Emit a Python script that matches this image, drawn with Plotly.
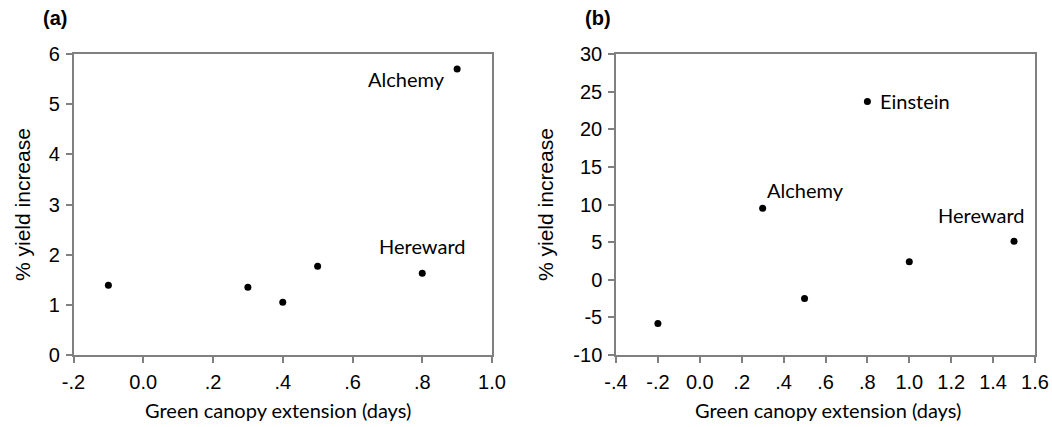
import plotly.graph_objects as go

# Panel (a)
a_x = [-0.1, 0.3, 0.4, 0.5, 0.8, 0.9]
a_y = [1.39, 1.35, 1.05, 1.77, 1.63, 5.70]
a_xticks = [-0.2, 0.0, 0.2, 0.4, 0.6, 0.8, 1.0]
a_xticktext = ["-.2", "0.0", ".2", ".4", ".6", ".8", "1.0"]
a_yticks = [0, 1, 2, 3, 4, 5, 6]

# Panel (b)
b_x = [-0.2, 0.3, 0.5, 0.8, 1.0, 1.5]
b_y = [-5.8, 9.5, -2.5, 23.7, 2.4, 5.1]
b_xticks = [-0.4, -0.2, 0.0, 0.2, 0.4, 0.6, 0.8, 1.0, 1.2, 1.4, 1.6]
b_xticktext = ["-.4", "-.2", "0.0", ".2", ".4", ".6", ".8", "1.0", "1.2", "1.4", "1.6"]
b_yticks = [-10, -5, 0, 5, 10, 15, 20, 25, 30]
b_yticktext = ["-10", "-5", "0", "5", "10", "15", "20", "25", "30"]

W, H = 1052, 427
def px(x): return x / W
def py(y): return (H - y) / H

fig = go.Figure()
marker = dict(color="black", size=7)
fig.add_trace(go.Scatter(x=a_x, y=a_y, mode="markers", marker=marker, xaxis="x", yaxis="y", showlegend=False))
fig.add_trace(go.Scatter(x=b_x, y=b_y, mode="markers", marker=marker, xaxis="x2", yaxis="y2", showlegend=False))

tickfont = dict(family="Arial, Liberation Sans, sans-serif", size=20, color="black")
axis_common = dict(showline=True, linecolor="#808080", linewidth=1.5, mirror=True,
                   ticks="outside", ticklen=6, tickcolor="#808080", tickwidth=1.5,
                   showgrid=False, zeroline=False, tickfont=tickfont, automargin=False,
                   ticklabelstandoff=2)

fig.update_layout(
    width=W, height=H, margin=dict(l=0, r=0, t=0, b=0, autoexpand=False),
    paper_bgcolor="white", plot_bgcolor="white",
    xaxis=dict(domain=[px(73.5), px(492)], range=[-0.2, 1.0], tickvals=a_xticks, ticktext=a_xticktext,
               anchor="y", **axis_common),
    yaxis=dict(domain=[py(355), py(54)], range=[0, 6], tickvals=a_yticks, anchor="x", **axis_common),
    xaxis2=dict(domain=[px(616), px(1035)], range=[-0.4, 1.6], tickvals=b_xticks, ticktext=b_xticktext,
                anchor="y2", **axis_common),
    yaxis2=dict(domain=[py(355), py(54)], range=[-10, 30], tickvals=b_yticks, ticktext=b_yticktext,
                anchor="x2", **axis_common),
)

lab_font = dict(family="Lato", size=20, color="black")
xtitle_font = dict(family="Lato", size=20, color="black")
ytitle_font = dict(family="Arial, Liberation Sans, sans-serif", size=21, color="black")
letter_font = dict(family="Arial, Liberation Sans, sans-serif", size=20, color="black")
ann = []
# panel letters
ann.append(dict(text="<b>(a)</b>", x=px(55), y=py(18), xref="paper", yref="paper", showarrow=False,
                xanchor="center", yanchor="middle", font=letter_font))
ann.append(dict(text="<b>(b)</b>", x=px(598), y=py(18), xref="paper", yref="paper", showarrow=False,
                xanchor="center", yanchor="middle", font=letter_font))
# axis titles
for cx in (278, 828):
    ann.append(dict(text="Green canopy extension (days)", x=px(cx), y=py(410), xref="paper", yref="paper",
                    showarrow=False, xanchor="center", yanchor="middle", font=xtitle_font))
for cx in (22, 545):
    ann.append(dict(text="% yield increase", x=px(cx), y=py(205), xref="paper", yref="paper",
                    showarrow=False, textangle=-90, xanchor="center", yanchor="middle", font=ytitle_font))
# point labels
ann.append(dict(text="Alchemy", x=a_x[5], y=a_y[5], xref="x", yref="y", showarrow=False,
                xanchor="right", yanchor="middle", xshift=-10, yshift=-10, font=lab_font))
ann.append(dict(text="Hereward", x=a_x[4], y=a_y[4], xref="x", yref="y", showarrow=False,
                xanchor="center", yanchor="bottom", yshift=13, font=lab_font))
ann.append(dict(text="Einstein", x=b_x[3], y=b_y[3], xref="x2", yref="y2", showarrow=False,
                xanchor="left", yanchor="middle", xshift=11, font=lab_font))
ann.append(dict(text="Alchemy", x=b_x[1], y=b_y[1], xref="x2", yref="y2", showarrow=False,
                xanchor="left", yanchor="bottom", xshift=2, yshift=4, font=lab_font))
ann.append(dict(text="Hereward", x=b_x[5], y=b_y[5], xref="x2", yref="y2", showarrow=False,
                xanchor="right", yanchor="bottom", xshift=12, yshift=12, font=lab_font))
fig.update_layout(annotations=ann)

fig.write_html("out.html")
